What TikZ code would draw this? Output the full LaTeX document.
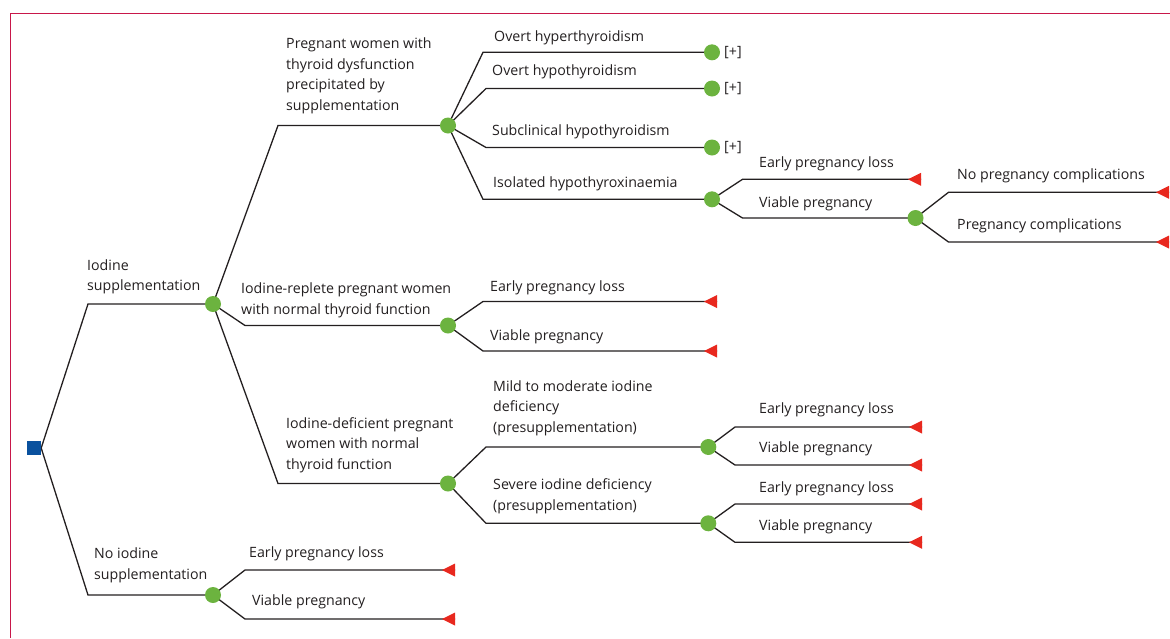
\documentclass[tikz,border=0pt]{standalone}
\usepackage{fontspec}
\setmainfont{Open Sans}
\usetikzlibrary{backgrounds}
\definecolor{chancegreen}{HTML}{6CB33F}
\definecolor{termred}{HTML}{E8281E}
\definecolor{decblue}{HTML}{0A519E}
\definecolor{ink}{HTML}{231F20}
\definecolor{framepink}{HTML}{C8174A}
\tikzset{
  chance/.style={circle,fill=chancegreen,inner sep=0pt,minimum size=16pt},
  decision/.style={rectangle,fill=decblue,inner sep=0pt,minimum size=14pt},
  lbl/.style={anchor=base west,inner sep=0pt,text=ink,align=left,
    font=\fontsize{14.2}{20.5}\selectfont},
  plus/.style={anchor=west,inner sep=0pt,text=ink,font=\fontsize{14.2}{20.5}\selectfont},
  branch/.style={draw=ink,line width=1.3pt,line join=miter},
  framestyle/.style={draw=framepink,line width=1.5pt}
}
\newcommand{\term}[3]{%
  \coordinate (#1) at (#2,#3);
  \fill[termred] (#1) ++(-13,0) -- ++(13,-6.5) -- ++(0,13) -- cycle;}
\begin{document}
\begin{tikzpicture}[x=1pt,y=-1pt]
\useasboundingbox (0,0) rectangle (1170,638);
\draw[framestyle] (10.5,638) -- (10.5,13.5) -- (1170,13.5);

% decision and chance nodes
\node[decision] (root) at (34,448) {};
\node[chance] (nis) at (213,304) {};
\node[chance] (nnis) at (213,595) {};
\node[chance] (npw) at (448,125.5) {};
\node[chance] (nir) at (448,325.5) {};
\node[chance] (nid) at (448,483.5) {};
\node[chance] (nh1) at (712,52.3) {};
\node[chance] (nh2) at (712,88.5) {};
\node[chance] (nh3) at (712,147.5) {};
\node[chance] (nh4) at (712,199.3) {};
\node[chance] (nvp) at (915.5,218) {};
\node[chance] (nm) at (708.3,447) {};
\node[chance] (ns) at (708.3,523.3) {};

% terminals
\term{t1}{921}{179.3}
\term{t2}{1169}{192.3}
\term{t3}{1169}{242}
\term{t4}{717}{301.5}
\term{t5}{717}{351}
\term{t6}{922}{427}
\term{t7}{922}{465}
\term{t8}{922}{504}
\term{t9}{922}{542.3}
\term{t10}{455}{570}
\term{t11}{455}{619}

\begin{scope}[on background layer]
\draw[branch] (root.east) -- (88,304) -- (nis.center);
\draw[branch] (root.east) -- (88,595) -- (nnis.center);
\draw[branch] (nis.center) -- (278,125.5) -- (npw.center);
\draw[branch] (nis.center) -- (245,325.5) -- (nir.center);
\draw[branch] (nis.center) -- (278,483.5) -- (nid.center);
\draw[branch] (npw.center) -- (483,52.3) -- (nh1.center);
\draw[branch] (npw.center) -- (486,88.5) -- (nh2.center);
\draw[branch] (npw.center) -- (486,147.5) -- (nh3.center);
\draw[branch] (npw.center) -- (483,199.3) -- (nh4.center);
\draw[branch] (nh4.center) -- (742.5,179.3) -- (t1);
\draw[branch] (nh4.center) -- (742.5,218) -- (nvp.center);
\draw[branch] (nvp.center) -- (948.5,192.3) -- (t2);
\draw[branch] (nvp.center) -- (948.5,242) -- (t3);
\draw[branch] (nir.center) -- (483,301.5) -- (t4);
\draw[branch] (nir.center) -- (483,351) -- (t5);
\draw[branch] (nid.center) -- (486,447) -- (nm.center);
\draw[branch] (nid.center) -- (486,523.3) -- (ns.center);
\draw[branch] (nm.center) -- (735,427) -- (t6);
\draw[branch] (nm.center) -- (735,465) -- (t7);
\draw[branch] (ns.center) -- (735,504) -- (t8);
\draw[branch] (ns.center) -- (735,542.3) -- (t9);
\draw[branch] (nnis.center) -- (245,570) -- (t10);
\draw[branch] (nnis.center) -- (245,619) -- (t11);
\end{scope}

% labels (multi-line labels are anchored at the baseline of their last line)
\node[lbl] (lis) at (87,290.7) {Iodine\\supplementation};
\node[lbl] (lnis) at (94,579.3) {No iodine\\supplementation};
\node[lbl] (lpw) at (286,110) {Pregnant women with\\thyroid dysfunction\\precipitated by\\supplementation};
\node[lbl] (lir) at (241,314) {Iodine-replete pregnant women\\with normal thyroid function};
\node[lbl] (lid) at (286,469.3) {Iodine-deficient pregnant\\women with normal\\thyroid function};
\node[lbl] (lh1) at (494,41) {Overt hyperthyroidism};
\node[lbl] (lh2) at (492,75) {Overt hypothyroidism};
\node[lbl] (lh3) at (492,135) {Subclinical hypothyroidism};
\node[lbl] (lh4) at (493,187) {Isolated hypothyroxinaemia};
\node[plus] (p1) at (724,53) {[+]};
\node[plus] (p2) at (724,89) {[+]};
\node[plus] (p3) at (724,148) {[+]};
\node[lbl] (le1) at (759,167) {Early pregnancy loss};
\node[lbl] (lv1) at (759,207) {Viable pregnancy};
\node[lbl] (lnc) at (957,179) {No pregnancy complications};
\node[lbl] (lpc) at (957,229) {Pregnancy complications};
\node[lbl] (le2) at (490,291) {Early pregnancy loss};
\node[lbl] (lv2) at (490,340) {Viable pregnancy};
\node[lbl] (lm) at (493,432) {Mild to moderate iodine\\deficiency\\(presupplementation)};
\node[lbl] (ls) at (493,510) {Severe iodine deficiency\\(presupplementation)};
\node[lbl] (le3) at (759,413) {Early pregnancy loss};
\node[lbl] (lv3) at (759,452) {Viable pregnancy};
\node[lbl] (le4) at (759,492) {Early pregnancy loss};
\node[lbl] (lv4) at (759,530) {Viable pregnancy};
\node[lbl] (le5) at (249,557) {Early pregnancy loss};
\node[lbl] (lv5) at (252,605) {Viable pregnancy};
\end{tikzpicture}
\end{document}
